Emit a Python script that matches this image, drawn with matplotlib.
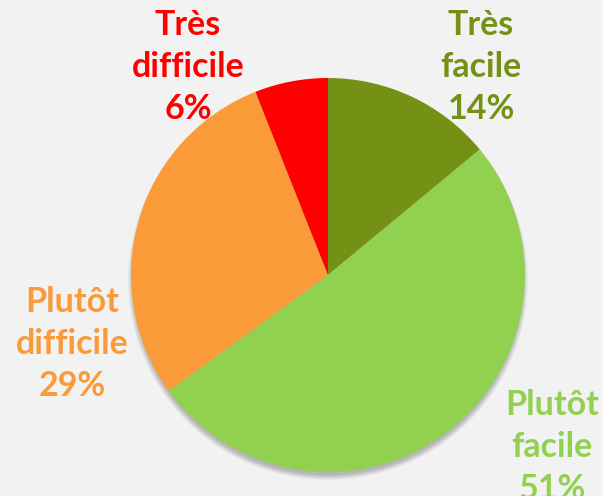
import matplotlib
matplotlib.use("Agg")
import matplotlib.pyplot as plt
from matplotlib.patches import Circle

categories = ["Très\nfacile", "Plutôt\nfacile", "Plutôt\ndifficile", "Très\ndifficile"]
values = [14, 51, 29, 6]
colors = ["#759115", "#92D050", "#FA9A38", "#FF0000"]

W, H = 603, 496
fig = plt.figure(figsize=(W / 100, H / 100), dpi=100)
fig.patch.set_facecolor("#F2F2F2")
ax = fig.add_axes([0, 0, 1, 1])
ax.set_facecolor("#F2F2F2")

cx, cy, r = 328, H - 275, 197

# soft shadow below the pie
for i in range(10):
    ax.add_patch(Circle((cx, cy - 5), r + 3 - i * 0.6, facecolor="#444444",
                        alpha=0.04, edgecolor="none", zorder=1))

ax.pie(values, colors=colors, startangle=90, counterclock=False,
       center=(cx, cy), radius=r, frame=True,
       wedgeprops=dict(edgecolor="none", linewidth=0, zorder=2))
ax.set_xlim(0, W)
ax.set_ylim(0, H)
ax.set_aspect("equal")
ax.axis("off")

label_pos = [(481, H - 9), (552, H - 389), (72, H - 286), (188, H - 9)]
for lab, v, c, (x, y) in zip(categories, values, colors, label_pos):
    ax.text(x, y, f"{lab}\n{v}%", color=c, ha="center", va="top",
            fontsize=24.5, fontweight="bold", family="Lato", linespacing=1.38,
            zorder=5)

fig.savefig("out.png", dpi=100, facecolor=fig.get_facecolor())
